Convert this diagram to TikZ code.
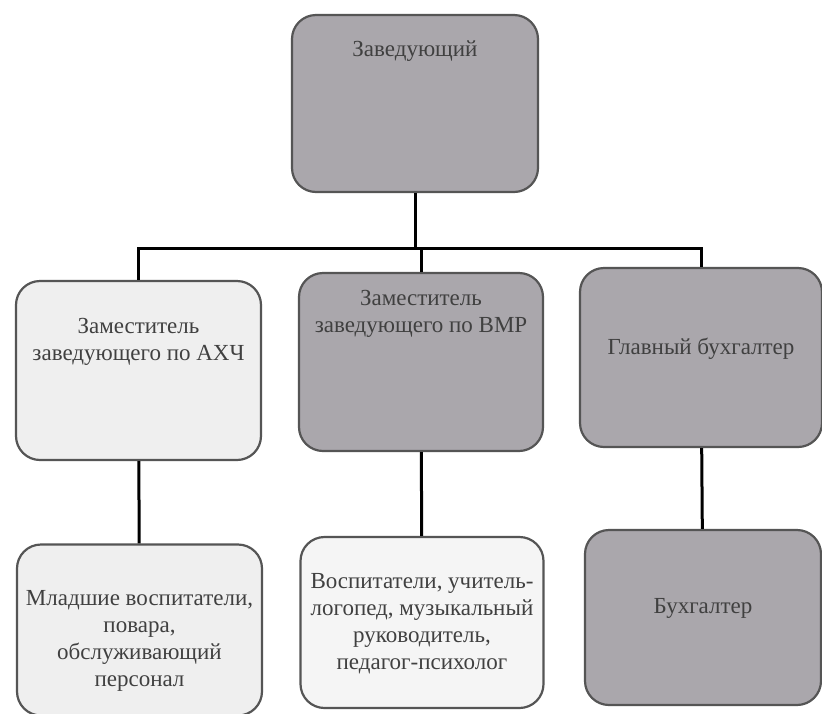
\documentclass[tikz,border=0pt]{standalone}
\usepackage{fontspec}
\setmainfont{Liberation Serif}
\newfontfamily\boxfont{Liberation Serif}
\usepackage{xcolor}
\usepackage{tikz}
\usetikzlibrary{positioning}
\definecolor{boxgray}{RGB}{170,167,172}
\definecolor{boxlight}{RGB}{239,239,239}
\definecolor{boxline}{RGB}{85,85,85}

\begin{document}
\begin{tikzpicture}[x=1pt, y=-1pt,
		box/.style={draw=boxline, line width=2.2pt, rounded corners=24pt, align=center, inner sep=0pt, font=\boxfont\fontsize{23}{27}\selectfont, text=black!75},
		grey/.style={box, fill=boxgray},
		light/.style={box, fill=boxlight},
		link/.style={line width=3pt, black}]
				\fill[white] (0,0) rectangle (822,713);
				\useasboundingbox (0,0) rectangle (822,713);

				\node[grey, minimum width=246pt, text height=41pt, text depth=136pt] (1) at (415,103.5) {Заведующий};

				\node[light, minimum width=245pt, text height=79pt, text depth=100pt] (2) at (138.5,370.5) {Заместитель\\заведующего по АХЧ};
				\node[grey, minimum width=244pt, text height=59.5pt, text depth=118.5pt] (3) at (421,362) {Заместитель\\заведующего по ВМР};
				\node[grey, minimum width=242pt, text height=86.5pt, text depth=92.5pt] (4) at (701,357.5) {Главный бухгалтер};

				\node[light, minimum width=245pt, text height=142pt, text depth=29pt] (5) at (139.5,630) {Младшие воспитатели,\\повара,\\обслуживающий\\персонал};
				\node[light, minimum width=243pt, text height=132pt, text depth=39pt, fill=boxlight!60] (6) at (422,622.5) {Воспитатели, учитель-\\логопед, музыкальный\\руководитель,\\педагог-психолог};
				\node[grey, minimum width=236pt, text height=83.5pt, text depth=91.5pt] (7) at (703,617.5) {Бухгалтер};

				\coordinate (bar) at (415,248);
				\draw[link] (1) -- (bar);
				\draw[link] (2) |- (bar) -| (4);
				\draw[link] (3) -- (3 |- bar);
				\draw[link] (2) -- (5);
				\draw[link] (3) -- (6);
				\draw[link] (4) -- (7);
			\end{tikzpicture}
\end{document}
